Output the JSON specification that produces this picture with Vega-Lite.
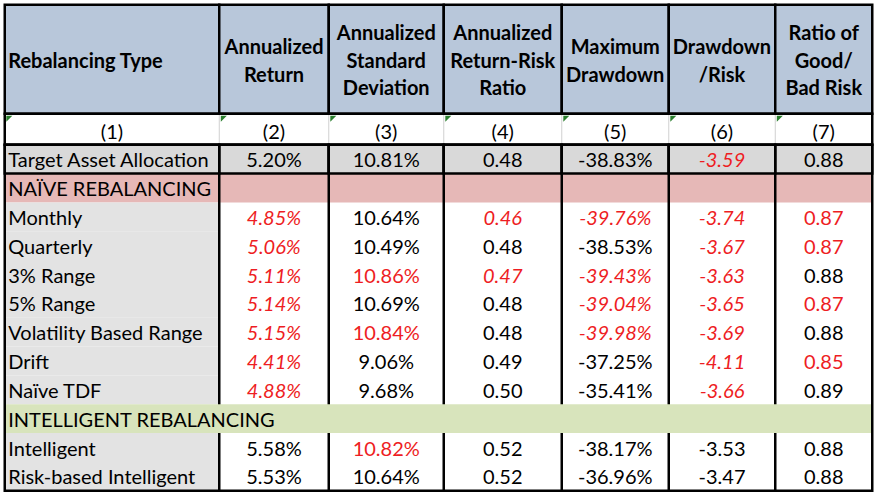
{
  "$schema": "https://vega.github.io/schema/vega-lite/v6.json",
  "autosize": {"type": "pad"},
  "padding": {"left": 2.75, "top": 2.75, "right": 0, "bottom": 0},
  "background": "#ffffff",
  "spacing": 0,
  "bounds": "flush",
  "config": {"view": {"stroke": null}, "concat": {"spacing": 0}},
  "datasets": {
    "columns": [
      {"col": "Type", "header": "Rebalancing Type"},
      {"col": "Return", "header": "Annualized\nReturn"},
      {"col": "StdDev", "header": "Annualized\nStandard\nDeviation"},
      {"col": "ReturnRisk", "header": "Annualized\nReturn-Risk\nRatio"},
      {"col": "MaxDD", "header": "Maximum\nDrawdown"},
      {"col": "DDRisk", "header": "Drawdown\n/Risk"},
      {"col": "GoodBad", "header": "Ratio of\nGood/\nBad Risk"}
    ],
    "cells": [
      {"row": "Column number", "col": "Type", "value": "(1)"},
      {"row": "Column number", "col": "Return", "value": "(2)"},
      {"row": "Column number", "col": "StdDev", "value": "(3)"},
      {"row": "Column number", "col": "ReturnRisk", "value": "(4)"},
      {"row": "Column number", "col": "MaxDD", "value": "(5)"},
      {"row": "Column number", "col": "DDRisk", "value": "(6)"},
      {"row": "Column number", "col": "GoodBad", "value": "(7)"},

      {"row": "Target Asset Allocation", "col": "Type", "value": "Target Asset Allocation"},
      {"row": "Target Asset Allocation", "col": "Return", "value": "5.20%", "status": "normal"},
      {"row": "Target Asset Allocation", "col": "StdDev", "value": "10.81%", "status": "normal"},
      {"row": "Target Asset Allocation", "col": "ReturnRisk", "value": "0.48", "status": "normal"},
      {"row": "Target Asset Allocation", "col": "MaxDD", "value": "-38.83%", "status": "normal"},
      {"row": "Target Asset Allocation", "col": "DDRisk", "value": "-3.59", "status": "worse, significant"},
      {"row": "Target Asset Allocation", "col": "GoodBad", "value": "0.88", "status": "normal"},

      {"row": "NAÏVE REBALANCING", "col": "Type", "value": "NAÏVE REBALANCING"},

      {"row": "Monthly", "col": "Type", "value": "Monthly"},
      {"row": "Monthly", "col": "Return", "value": "4.85%", "status": "worse, significant"},
      {"row": "Monthly", "col": "StdDev", "value": "10.64%", "status": "normal"},
      {"row": "Monthly", "col": "ReturnRisk", "value": "0.46", "status": "worse, significant"},
      {"row": "Monthly", "col": "MaxDD", "value": "-39.76%", "status": "worse, significant"},
      {"row": "Monthly", "col": "DDRisk", "value": "-3.74", "status": "worse, significant"},
      {"row": "Monthly", "col": "GoodBad", "value": "0.87", "status": "worse"},

      {"row": "Quarterly", "col": "Type", "value": "Quarterly"},
      {"row": "Quarterly", "col": "Return", "value": "5.06%", "status": "worse, significant"},
      {"row": "Quarterly", "col": "StdDev", "value": "10.49%", "status": "normal"},
      {"row": "Quarterly", "col": "ReturnRisk", "value": "0.48", "status": "normal"},
      {"row": "Quarterly", "col": "MaxDD", "value": "-38.53%", "status": "normal"},
      {"row": "Quarterly", "col": "DDRisk", "value": "-3.67", "status": "worse, significant"},
      {"row": "Quarterly", "col": "GoodBad", "value": "0.87", "status": "worse"},

      {"row": "3% Range", "col": "Type", "value": "3% Range"},
      {"row": "3% Range", "col": "Return", "value": "5.11%", "status": "worse, significant"},
      {"row": "3% Range", "col": "StdDev", "value": "10.86%", "status": "worse"},
      {"row": "3% Range", "col": "ReturnRisk", "value": "0.47", "status": "worse, significant"},
      {"row": "3% Range", "col": "MaxDD", "value": "-39.43%", "status": "worse, significant"},
      {"row": "3% Range", "col": "DDRisk", "value": "-3.63", "status": "worse, significant"},
      {"row": "3% Range", "col": "GoodBad", "value": "0.88", "status": "normal"},

      {"row": "5% Range", "col": "Type", "value": "5% Range"},
      {"row": "5% Range", "col": "Return", "value": "5.14%", "status": "worse, significant"},
      {"row": "5% Range", "col": "StdDev", "value": "10.69%", "status": "normal"},
      {"row": "5% Range", "col": "ReturnRisk", "value": "0.48", "status": "normal"},
      {"row": "5% Range", "col": "MaxDD", "value": "-39.04%", "status": "worse, significant"},
      {"row": "5% Range", "col": "DDRisk", "value": "-3.65", "status": "worse, significant"},
      {"row": "5% Range", "col": "GoodBad", "value": "0.87", "status": "worse"},

      {"row": "Volatility Based Range", "col": "Type", "value": "Volatility Based Range"},
      {"row": "Volatility Based Range", "col": "Return", "value": "5.15%", "status": "worse, significant"},
      {"row": "Volatility Based Range", "col": "StdDev", "value": "10.84%", "status": "worse"},
      {"row": "Volatility Based Range", "col": "ReturnRisk", "value": "0.48", "status": "normal"},
      {"row": "Volatility Based Range", "col": "MaxDD", "value": "-39.98%", "status": "worse, significant"},
      {"row": "Volatility Based Range", "col": "DDRisk", "value": "-3.69", "status": "worse, significant"},
      {"row": "Volatility Based Range", "col": "GoodBad", "value": "0.88", "status": "normal"},

      {"row": "Drift", "col": "Type", "value": "Drift"},
      {"row": "Drift", "col": "Return", "value": "4.41%", "status": "worse, significant"},
      {"row": "Drift", "col": "StdDev", "value": "9.06%", "status": "normal"},
      {"row": "Drift", "col": "ReturnRisk", "value": "0.49", "status": "normal"},
      {"row": "Drift", "col": "MaxDD", "value": "-37.25%", "status": "normal"},
      {"row": "Drift", "col": "DDRisk", "value": "-4.11", "status": "worse, significant"},
      {"row": "Drift", "col": "GoodBad", "value": "0.85", "status": "worse"},

      {"row": "Naïve TDF", "col": "Type", "value": "Naïve TDF"},
      {"row": "Naïve TDF", "col": "Return", "value": "4.88%", "status": "worse, significant"},
      {"row": "Naïve TDF", "col": "StdDev", "value": "9.68%", "status": "normal"},
      {"row": "Naïve TDF", "col": "ReturnRisk", "value": "0.50", "status": "normal"},
      {"row": "Naïve TDF", "col": "MaxDD", "value": "-35.41%", "status": "normal"},
      {"row": "Naïve TDF", "col": "DDRisk", "value": "-3.66", "status": "worse, significant"},
      {"row": "Naïve TDF", "col": "GoodBad", "value": "0.89", "status": "normal"},

      {"row": "INTELLIGENT REBALANCING", "col": "Type", "value": "INTELLIGENT REBALANCING"},

      {"row": "Intelligent", "col": "Type", "value": "Intelligent"},
      {"row": "Intelligent", "col": "Return", "value": "5.58%", "status": "normal"},
      {"row": "Intelligent", "col": "StdDev", "value": "10.82%", "status": "worse"},
      {"row": "Intelligent", "col": "ReturnRisk", "value": "0.52", "status": "normal"},
      {"row": "Intelligent", "col": "MaxDD", "value": "-38.17%", "status": "normal"},
      {"row": "Intelligent", "col": "DDRisk", "value": "-3.53", "status": "normal"},
      {"row": "Intelligent", "col": "GoodBad", "value": "0.88", "status": "normal"},

      {"row": "Risk-based Intelligent", "col": "Type", "value": "Risk-based Intelligent"},
      {"row": "Risk-based Intelligent", "col": "Return", "value": "5.53%", "status": "normal"},
      {"row": "Risk-based Intelligent", "col": "StdDev", "value": "10.64%", "status": "normal"},
      {"row": "Risk-based Intelligent", "col": "ReturnRisk", "value": "0.52", "status": "normal"},
      {"row": "Risk-based Intelligent", "col": "MaxDD", "value": "-36.96%", "status": "normal"},
      {"row": "Risk-based Intelligent", "col": "DDRisk", "value": "-3.47", "status": "normal"},
      {"row": "Risk-based Intelligent", "col": "GoodBad", "value": "0.88", "status": "normal"}
    ]
  },
  "vconcat": [
    {
      "width": 867.5,
      "height": 109,
      "data": {"name": "columns"},
      "resolve": {"scale": {"x": "independent"}},
      "layer": [
        {"transform": [{"filter": {"field": "col", "equal": "Type"}}], "layer": [
          {"mark": {"type": "rect", "fill": "#B8C7DA", "stroke": "#000000", "strokeWidth": 2.5}, "encoding": {"x": {"field": "col", "type": "nominal", "axis": null, "scale": {"type": "band", "domain": ["Type"], "range": [0, 214.5], "paddingInner": 0, "paddingOuter": 0}}}},
          {"mark": {"type": "text", "font": "Lato", "fontSize": 20, "fontWeight": "bold", "align": "left", "dx": 3.5, "dy": 2.5, "lineBreak": "\n", "lineHeight": 27.5, "color": "#000000"}, "encoding": {"x": {"field": "col", "type": "nominal", "axis": null, "bandPosition": 0, "scale": {"type": "band", "domain": ["Type"], "range": [0, 214.5], "paddingInner": 0, "paddingOuter": 0}}, "text": {"field": "header"}}}
        ]},
        {"transform": [{"filter": {"field": "col", "equal": "Return"}}], "layer": [
          {"mark": {"type": "rect", "fill": "#B8C7DA", "stroke": "#000000", "strokeWidth": 2.5}, "encoding": {"x": {"field": "col", "type": "nominal", "axis": null, "scale": {"type": "band", "domain": ["Return"], "range": [214.5, 324], "paddingInner": 0, "paddingOuter": 0}}}},
          {"mark": {"type": "text", "font": "Lato", "fontSize": 20, "fontWeight": "bold", "align": "center", "dy": -11.25, "lineBreak": "\n", "lineHeight": 27.5, "color": "#000000"}, "encoding": {"x": {"field": "col", "type": "nominal", "axis": null, "scale": {"type": "band", "domain": ["Return"], "range": [214.5, 324], "paddingInner": 0, "paddingOuter": 0}}, "text": {"field": "header"}}}
        ]},
        {"transform": [{"filter": {"field": "col", "equal": "StdDev"}}], "layer": [
          {"mark": {"type": "rect", "fill": "#B8C7DA", "stroke": "#000000", "strokeWidth": 2.5}, "encoding": {"x": {"field": "col", "type": "nominal", "axis": null, "scale": {"type": "band", "domain": ["StdDev"], "range": [324, 439], "paddingInner": 0, "paddingOuter": 0}}}},
          {"mark": {"type": "text", "font": "Lato", "fontSize": 20, "fontWeight": "bold", "align": "center", "dy": -25, "lineBreak": "\n", "lineHeight": 27.5, "color": "#000000"}, "encoding": {"x": {"field": "col", "type": "nominal", "axis": null, "scale": {"type": "band", "domain": ["StdDev"], "range": [324, 439], "paddingInner": 0, "paddingOuter": 0}}, "text": {"field": "header"}}}
        ]},
        {"transform": [{"filter": {"field": "col", "equal": "ReturnRisk"}}], "layer": [
          {"mark": {"type": "rect", "fill": "#B8C7DA", "stroke": "#000000", "strokeWidth": 2.5}, "encoding": {"x": {"field": "col", "type": "nominal", "axis": null, "scale": {"type": "band", "domain": ["ReturnRisk"], "range": [439, 557], "paddingInner": 0, "paddingOuter": 0}}}},
          {"mark": {"type": "text", "font": "Lato", "fontSize": 20, "fontWeight": "bold", "align": "center", "dy": -25, "lineBreak": "\n", "lineHeight": 27.5, "color": "#000000"}, "encoding": {"x": {"field": "col", "type": "nominal", "axis": null, "scale": {"type": "band", "domain": ["ReturnRisk"], "range": [439, 557], "paddingInner": 0, "paddingOuter": 0}}, "text": {"field": "header"}}}
        ]},
        {"transform": [{"filter": {"field": "col", "equal": "MaxDD"}}], "layer": [
          {"mark": {"type": "rect", "fill": "#B8C7DA", "stroke": "#000000", "strokeWidth": 2.5}, "encoding": {"x": {"field": "col", "type": "nominal", "axis": null, "scale": {"type": "band", "domain": ["MaxDD"], "range": [557, 664], "paddingInner": 0, "paddingOuter": 0}}}},
          {"mark": {"type": "text", "font": "Lato", "fontSize": 20, "fontWeight": "bold", "align": "center", "dy": -11.25, "lineBreak": "\n", "lineHeight": 27.5, "color": "#000000"}, "encoding": {"x": {"field": "col", "type": "nominal", "axis": null, "scale": {"type": "band", "domain": ["MaxDD"], "range": [557, 664], "paddingInner": 0, "paddingOuter": 0}}, "text": {"field": "header"}}}
        ]},
        {"transform": [{"filter": {"field": "col", "equal": "DDRisk"}}], "layer": [
          {"mark": {"type": "rect", "fill": "#B8C7DA", "stroke": "#000000", "strokeWidth": 2.5}, "encoding": {"x": {"field": "col", "type": "nominal", "axis": null, "scale": {"type": "band", "domain": ["DDRisk"], "range": [664, 770.5], "paddingInner": 0, "paddingOuter": 0}}}},
          {"mark": {"type": "text", "font": "Lato", "fontSize": 20, "fontWeight": "bold", "align": "center", "dy": -11.25, "lineBreak": "\n", "lineHeight": 27.5, "color": "#000000"}, "encoding": {"x": {"field": "col", "type": "nominal", "axis": null, "scale": {"type": "band", "domain": ["DDRisk"], "range": [664, 770.5], "paddingInner": 0, "paddingOuter": 0}}, "text": {"field": "header"}}}
        ]},
        {"transform": [{"filter": {"field": "col", "equal": "GoodBad"}}], "layer": [
          {"mark": {"type": "rect", "fill": "#B8C7DA", "stroke": "#000000", "strokeWidth": 2.5}, "encoding": {"x": {"field": "col", "type": "nominal", "axis": null, "scale": {"type": "band", "domain": ["GoodBad"], "range": [770.5, 867.5], "paddingInner": 0, "paddingOuter": 0}}}},
          {"mark": {"type": "text", "font": "Lato", "fontSize": 20, "fontWeight": "bold", "align": "center", "dy": -25, "lineBreak": "\n", "lineHeight": 27.5, "color": "#000000"}, "encoding": {"x": {"field": "col", "type": "nominal", "axis": null, "scale": {"type": "band", "domain": ["GoodBad"], "range": [770.5, 867.5], "paddingInner": 0, "paddingOuter": 0}}, "text": {"field": "header"}}}
        ]}
      ]
    },
    {
      "width": 867.5,
      "height": 31,
      "data": {"name": "cells"},
      "transform": [{"filter": {"field": "row", "equal": "Column number"}}],
      "resolve": {"scale": {"x": "independent"}},
      "layer": [
        {"transform": [{"filter": {"field": "col", "equal": "Type"}}], "layer": [
          {"mark": {"type": "text", "font": "Lato", "fontSize": 20, "dy": 3.5, "color": "#000000"}, "encoding": {"x": {"field": "col", "type": "nominal", "axis": null, "scale": {"type": "band", "domain": ["Type"], "range": [0, 214.5], "paddingInner": 0, "paddingOuter": 0}}, "y": {"field": "row", "type": "nominal", "axis": null, "scale": {"type": "band", "domain": ["Column number"], "paddingInner": 0, "paddingOuter": 0}}, "text": {"field": "value"}}},
          {"mark": {"type": "point", "shape": "M0.25,0.3L1.2,0.3L0.25,1.25Z", "filled": true, "size": 160, "color": "#2A7F2E", "opacity": 1, "strokeWidth": 0}, "encoding": {"x": {"field": "col", "type": "nominal", "axis": null, "bandPosition": 0, "scale": {"type": "band", "domain": ["Type"], "range": [0, 214.5], "paddingInner": 0, "paddingOuter": 0}}, "y": {"field": "row", "type": "nominal", "axis": null, "bandPosition": 0, "scale": {"type": "band", "domain": ["Column number"], "paddingInner": 0, "paddingOuter": 0}}}}
        ]},
        {"transform": [{"filter": {"field": "col", "equal": "Return"}}], "layer": [
          {"mark": {"type": "rule", "stroke": "#D0D0D0", "strokeWidth": 1}, "encoding": {"x": {"field": "col", "type": "nominal", "axis": null, "bandPosition": 0, "scale": {"type": "band", "domain": ["Return"], "range": [214.5, 324], "paddingInner": 0, "paddingOuter": 0}}}},
          {"mark": {"type": "text", "font": "Lato", "fontSize": 20, "dy": 3.5, "color": "#000000"}, "encoding": {"x": {"field": "col", "type": "nominal", "axis": null, "scale": {"type": "band", "domain": ["Return"], "range": [214.5, 324], "paddingInner": 0, "paddingOuter": 0}}, "y": {"field": "row", "type": "nominal", "axis": null, "scale": {"type": "band", "domain": ["Column number"], "paddingInner": 0, "paddingOuter": 0}}, "text": {"field": "value"}}},
          {"mark": {"type": "point", "shape": "M0.25,0.3L1.2,0.3L0.25,1.25Z", "filled": true, "size": 160, "color": "#2A7F2E", "opacity": 1, "strokeWidth": 0}, "encoding": {"x": {"field": "col", "type": "nominal", "axis": null, "bandPosition": 0, "scale": {"type": "band", "domain": ["Return"], "range": [214.5, 324], "paddingInner": 0, "paddingOuter": 0}}, "y": {"field": "row", "type": "nominal", "axis": null, "bandPosition": 0, "scale": {"type": "band", "domain": ["Column number"], "paddingInner": 0, "paddingOuter": 0}}}}
        ]},
        {"transform": [{"filter": {"field": "col", "equal": "StdDev"}}], "layer": [
          {"mark": {"type": "rule", "stroke": "#D0D0D0", "strokeWidth": 1}, "encoding": {"x": {"field": "col", "type": "nominal", "axis": null, "bandPosition": 0, "scale": {"type": "band", "domain": ["StdDev"], "range": [324, 439], "paddingInner": 0, "paddingOuter": 0}}}},
          {"mark": {"type": "text", "font": "Lato", "fontSize": 20, "dy": 3.5, "color": "#000000"}, "encoding": {"x": {"field": "col", "type": "nominal", "axis": null, "scale": {"type": "band", "domain": ["StdDev"], "range": [324, 439], "paddingInner": 0, "paddingOuter": 0}}, "y": {"field": "row", "type": "nominal", "axis": null, "scale": {"type": "band", "domain": ["Column number"], "paddingInner": 0, "paddingOuter": 0}}, "text": {"field": "value"}}},
          {"mark": {"type": "point", "shape": "M0.25,0.3L1.2,0.3L0.25,1.25Z", "filled": true, "size": 160, "color": "#2A7F2E", "opacity": 1, "strokeWidth": 0}, "encoding": {"x": {"field": "col", "type": "nominal", "axis": null, "bandPosition": 0, "scale": {"type": "band", "domain": ["StdDev"], "range": [324, 439], "paddingInner": 0, "paddingOuter": 0}}, "y": {"field": "row", "type": "nominal", "axis": null, "bandPosition": 0, "scale": {"type": "band", "domain": ["Column number"], "paddingInner": 0, "paddingOuter": 0}}}}
        ]},
        {"transform": [{"filter": {"field": "col", "equal": "ReturnRisk"}}], "layer": [
          {"mark": {"type": "rule", "stroke": "#D0D0D0", "strokeWidth": 1}, "encoding": {"x": {"field": "col", "type": "nominal", "axis": null, "bandPosition": 0, "scale": {"type": "band", "domain": ["ReturnRisk"], "range": [439, 557], "paddingInner": 0, "paddingOuter": 0}}}},
          {"mark": {"type": "text", "font": "Lato", "fontSize": 20, "dy": 3.5, "color": "#000000"}, "encoding": {"x": {"field": "col", "type": "nominal", "axis": null, "scale": {"type": "band", "domain": ["ReturnRisk"], "range": [439, 557], "paddingInner": 0, "paddingOuter": 0}}, "y": {"field": "row", "type": "nominal", "axis": null, "scale": {"type": "band", "domain": ["Column number"], "paddingInner": 0, "paddingOuter": 0}}, "text": {"field": "value"}}},
          {"mark": {"type": "point", "shape": "M0.25,0.3L1.2,0.3L0.25,1.25Z", "filled": true, "size": 160, "color": "#2A7F2E", "opacity": 1, "strokeWidth": 0}, "encoding": {"x": {"field": "col", "type": "nominal", "axis": null, "bandPosition": 0, "scale": {"type": "band", "domain": ["ReturnRisk"], "range": [439, 557], "paddingInner": 0, "paddingOuter": 0}}, "y": {"field": "row", "type": "nominal", "axis": null, "bandPosition": 0, "scale": {"type": "band", "domain": ["Column number"], "paddingInner": 0, "paddingOuter": 0}}}}
        ]},
        {"transform": [{"filter": {"field": "col", "equal": "MaxDD"}}], "layer": [
          {"mark": {"type": "rule", "stroke": "#D0D0D0", "strokeWidth": 1}, "encoding": {"x": {"field": "col", "type": "nominal", "axis": null, "bandPosition": 0, "scale": {"type": "band", "domain": ["MaxDD"], "range": [557, 664], "paddingInner": 0, "paddingOuter": 0}}}},
          {"mark": {"type": "text", "font": "Lato", "fontSize": 20, "dy": 3.5, "color": "#000000"}, "encoding": {"x": {"field": "col", "type": "nominal", "axis": null, "scale": {"type": "band", "domain": ["MaxDD"], "range": [557, 664], "paddingInner": 0, "paddingOuter": 0}}, "y": {"field": "row", "type": "nominal", "axis": null, "scale": {"type": "band", "domain": ["Column number"], "paddingInner": 0, "paddingOuter": 0}}, "text": {"field": "value"}}},
          {"mark": {"type": "point", "shape": "M0.25,0.3L1.2,0.3L0.25,1.25Z", "filled": true, "size": 160, "color": "#2A7F2E", "opacity": 1, "strokeWidth": 0}, "encoding": {"x": {"field": "col", "type": "nominal", "axis": null, "bandPosition": 0, "scale": {"type": "band", "domain": ["MaxDD"], "range": [557, 664], "paddingInner": 0, "paddingOuter": 0}}, "y": {"field": "row", "type": "nominal", "axis": null, "bandPosition": 0, "scale": {"type": "band", "domain": ["Column number"], "paddingInner": 0, "paddingOuter": 0}}}}
        ]},
        {"transform": [{"filter": {"field": "col", "equal": "DDRisk"}}], "layer": [
          {"mark": {"type": "rule", "stroke": "#D0D0D0", "strokeWidth": 1}, "encoding": {"x": {"field": "col", "type": "nominal", "axis": null, "bandPosition": 0, "scale": {"type": "band", "domain": ["DDRisk"], "range": [664, 770.5], "paddingInner": 0, "paddingOuter": 0}}}},
          {"mark": {"type": "text", "font": "Lato", "fontSize": 20, "dy": 3.5, "color": "#000000"}, "encoding": {"x": {"field": "col", "type": "nominal", "axis": null, "scale": {"type": "band", "domain": ["DDRisk"], "range": [664, 770.5], "paddingInner": 0, "paddingOuter": 0}}, "y": {"field": "row", "type": "nominal", "axis": null, "scale": {"type": "band", "domain": ["Column number"], "paddingInner": 0, "paddingOuter": 0}}, "text": {"field": "value"}}},
          {"mark": {"type": "point", "shape": "M0.25,0.3L1.2,0.3L0.25,1.25Z", "filled": true, "size": 160, "color": "#2A7F2E", "opacity": 1, "strokeWidth": 0}, "encoding": {"x": {"field": "col", "type": "nominal", "axis": null, "bandPosition": 0, "scale": {"type": "band", "domain": ["DDRisk"], "range": [664, 770.5], "paddingInner": 0, "paddingOuter": 0}}, "y": {"field": "row", "type": "nominal", "axis": null, "bandPosition": 0, "scale": {"type": "band", "domain": ["Column number"], "paddingInner": 0, "paddingOuter": 0}}}}
        ]},
        {"transform": [{"filter": {"field": "col", "equal": "GoodBad"}}], "layer": [
          {"mark": {"type": "rule", "stroke": "#D0D0D0", "strokeWidth": 1}, "encoding": {"x": {"field": "col", "type": "nominal", "axis": null, "bandPosition": 0, "scale": {"type": "band", "domain": ["GoodBad"], "range": [770.5, 867.5], "paddingInner": 0, "paddingOuter": 0}}}},
          {"mark": {"type": "text", "font": "Lato", "fontSize": 20, "dy": 3.5, "color": "#000000"}, "encoding": {"x": {"field": "col", "type": "nominal", "axis": null, "scale": {"type": "band", "domain": ["GoodBad"], "range": [770.5, 867.5], "paddingInner": 0, "paddingOuter": 0}}, "y": {"field": "row", "type": "nominal", "axis": null, "scale": {"type": "band", "domain": ["Column number"], "paddingInner": 0, "paddingOuter": 0}}, "text": {"field": "value"}}},
          {"mark": {"type": "point", "shape": "M0.25,0.3L1.2,0.3L0.25,1.25Z", "filled": true, "size": 160, "color": "#2A7F2E", "opacity": 1, "strokeWidth": 0}, "encoding": {"x": {"field": "col", "type": "nominal", "axis": null, "bandPosition": 0, "scale": {"type": "band", "domain": ["GoodBad"], "range": [770.5, 867.5], "paddingInner": 0, "paddingOuter": 0}}, "y": {"field": "row", "type": "nominal", "axis": null, "bandPosition": 0, "scale": {"type": "band", "domain": ["Column number"], "paddingInner": 0, "paddingOuter": 0}}}}
        ]},
        {"transform": [{"filter": {"field": "col", "equal": "Type"}}], "mark": {"type": "rect", "filled": false, "stroke": "#000000", "strokeWidth": 2.5}, "encoding": {}}
      ]
    },
    {
      "width": 867.5,
      "height": 346,
      "data": {"name": "cells"},
      "transform": [{"filter": "datum.row !== 'Column number'"}],
      "resolve": {"scale": {"x": "independent"}},
      "layer": [
        {"transform": [{"filter": {"field": "row", "equal": "NAÏVE REBALANCING"}}], "mark": {"type": "rect", "fill": "#E6B8B7"}, "encoding": {"y": {"field": "row", "type": "nominal", "axis": null, "scale": {"type": "band", "domain": ["Target Asset Allocation", "NAÏVE REBALANCING", "Monthly", "Quarterly", "3% Range", "5% Range", "Volatility Based Range", "Drift", "Naïve TDF", "INTELLIGENT REBALANCING", "Intelligent", "Risk-based Intelligent"], "paddingInner": 0, "paddingOuter": 0}}}},

        {"transform": [{"filter": {"field": "col", "equal": "Type"}}], "layer": [
          {"transform": [{"filter": {"not": {"field": "row", "oneOf": ["Target Asset Allocation", "NAÏVE REBALANCING", "INTELLIGENT REBALANCING"]}}}], "mark": {"type": "rect", "fill": "#E3E3E3"}, "encoding": {"x": {"field": "col", "type": "nominal", "axis": null, "scale": {"type": "band", "domain": ["Type"], "range": [0, 214.5], "paddingInner": 0, "paddingOuter": 0}}, "y": {"field": "row", "type": "nominal", "axis": null, "scale": {"type": "band", "domain": ["Target Asset Allocation", "NAÏVE REBALANCING", "Monthly", "Quarterly", "3% Range", "5% Range", "Volatility Based Range", "Drift", "Naïve TDF", "INTELLIGENT REBALANCING", "Intelligent", "Risk-based Intelligent"], "paddingInner": 0, "paddingOuter": 0}}}},
          {"transform": [{"filter": {"field": "row", "equal": "Target Asset Allocation"}}], "mark": {"type": "rect", "fill": "#D9D9D9", "stroke": "#000000", "strokeWidth": 2.5}, "encoding": {"x": {"field": "col", "type": "nominal", "axis": null, "scale": {"type": "band", "domain": ["Type"], "range": [0, 214.5], "paddingInner": 0, "paddingOuter": 0}}, "y": {"field": "row", "type": "nominal", "axis": null, "scale": {"type": "band", "domain": ["Target Asset Allocation", "NAÏVE REBALANCING", "Monthly", "Quarterly", "3% Range", "5% Range", "Volatility Based Range", "Drift", "Naïve TDF", "INTELLIGENT REBALANCING", "Intelligent", "Risk-based Intelligent"], "paddingInner": 0, "paddingOuter": 0}}}}
        ]},

        {"transform": [{"filter": {"field": "col", "equal": "Return"}}], "layer": [
          {"transform": [{"filter": {"field": "row", "equal": "Target Asset Allocation"}}], "mark": {"type": "rect", "fill": "#D9D9D9", "stroke": "#000000", "strokeWidth": 2.5}, "encoding": {"x": {"field": "col", "type": "nominal", "axis": null, "scale": {"type": "band", "domain": ["Return"], "range": [214.5, 324], "paddingInner": 0, "paddingOuter": 0}}, "y": {"field": "row", "type": "nominal", "axis": null, "scale": {"type": "band", "domain": ["Target Asset Allocation", "NAÏVE REBALANCING", "Monthly", "Quarterly", "3% Range", "5% Range", "Volatility Based Range", "Drift", "Naïve TDF", "INTELLIGENT REBALANCING", "Intelligent", "Risk-based Intelligent"], "paddingInner": 0, "paddingOuter": 0}}}},
          {"transform": [{"filter": {"field": "row", "equal": "Target Asset Allocation"}}], "mark": {"type": "rule", "stroke": "#000000", "strokeWidth": 2.5}, "encoding": {"x": {"field": "col", "type": "nominal", "axis": null, "bandPosition": 0, "scale": {"type": "band", "domain": ["Return"], "range": [214.5, 324], "paddingInner": 0, "paddingOuter": 0}}}},
          {"transform": [{"filter": "datum.status !== 'worse, significant'"}], "mark": {"type": "text", "font": "Lato", "fontSize": 20, "dy": 2}, "encoding": {"x": {"field": "col", "type": "nominal", "axis": null, "scale": {"type": "band", "domain": ["Return"], "range": [214.5, 324], "paddingInner": 0, "paddingOuter": 0}}, "y": {"field": "row", "type": "nominal", "axis": null, "scale": {"type": "band", "domain": ["Target Asset Allocation", "NAÏVE REBALANCING", "Monthly", "Quarterly", "3% Range", "5% Range", "Volatility Based Range", "Drift", "Naïve TDF", "INTELLIGENT REBALANCING", "Intelligent", "Risk-based Intelligent"], "paddingInner": 0, "paddingOuter": 0}}, "text": {"field": "value"}, "color": {"field": "status", "type": "nominal", "legend": null, "scale": {"domain": ["normal", "worse", "worse, significant"], "range": ["#000000", "#EE1D23", "#EE1D23"]}}}},
          {"transform": [{"filter": {"field": "status", "equal": "worse, significant"}}], "mark": {"type": "text", "font": "Lato", "fontSize": 20, "fontStyle": "italic", "dy": 2}, "encoding": {"x": {"field": "col", "type": "nominal", "axis": null, "scale": {"type": "band", "domain": ["Return"], "range": [214.5, 324], "paddingInner": 0, "paddingOuter": 0}}, "y": {"field": "row", "type": "nominal", "axis": null, "scale": {"type": "band", "domain": ["Target Asset Allocation", "NAÏVE REBALANCING", "Monthly", "Quarterly", "3% Range", "5% Range", "Volatility Based Range", "Drift", "Naïve TDF", "INTELLIGENT REBALANCING", "Intelligent", "Risk-based Intelligent"], "paddingInner": 0, "paddingOuter": 0}}, "text": {"field": "value"}, "color": {"field": "status", "type": "nominal", "legend": null, "scale": {"domain": ["normal", "worse", "worse, significant"], "range": ["#000000", "#EE1D23", "#EE1D23"]}}}}
        ]},

        {"transform": [{"filter": {"field": "col", "equal": "StdDev"}}], "layer": [
          {"transform": [{"filter": {"field": "row", "equal": "Target Asset Allocation"}}], "mark": {"type": "rect", "fill": "#D9D9D9", "stroke": "#000000", "strokeWidth": 2.5}, "encoding": {"x": {"field": "col", "type": "nominal", "axis": null, "scale": {"type": "band", "domain": ["StdDev"], "range": [324, 439], "paddingInner": 0, "paddingOuter": 0}}, "y": {"field": "row", "type": "nominal", "axis": null, "scale": {"type": "band", "domain": ["Target Asset Allocation", "NAÏVE REBALANCING", "Monthly", "Quarterly", "3% Range", "5% Range", "Volatility Based Range", "Drift", "Naïve TDF", "INTELLIGENT REBALANCING", "Intelligent", "Risk-based Intelligent"], "paddingInner": 0, "paddingOuter": 0}}}},
          {"transform": [{"filter": {"field": "row", "equal": "Target Asset Allocation"}}], "mark": {"type": "rule", "stroke": "#000000", "strokeWidth": 2.5}, "encoding": {"x": {"field": "col", "type": "nominal", "axis": null, "bandPosition": 0, "scale": {"type": "band", "domain": ["StdDev"], "range": [324, 439], "paddingInner": 0, "paddingOuter": 0}}}},
          {"transform": [{"filter": "datum.status !== 'worse, significant'"}], "mark": {"type": "text", "font": "Lato", "fontSize": 20, "dy": 2}, "encoding": {"x": {"field": "col", "type": "nominal", "axis": null, "scale": {"type": "band", "domain": ["StdDev"], "range": [324, 439], "paddingInner": 0, "paddingOuter": 0}}, "y": {"field": "row", "type": "nominal", "axis": null, "scale": {"type": "band", "domain": ["Target Asset Allocation", "NAÏVE REBALANCING", "Monthly", "Quarterly", "3% Range", "5% Range", "Volatility Based Range", "Drift", "Naïve TDF", "INTELLIGENT REBALANCING", "Intelligent", "Risk-based Intelligent"], "paddingInner": 0, "paddingOuter": 0}}, "text": {"field": "value"}, "color": {"field": "status", "type": "nominal", "legend": null, "scale": {"domain": ["normal", "worse", "worse, significant"], "range": ["#000000", "#EE1D23", "#EE1D23"]}}}},
          {"transform": [{"filter": {"field": "status", "equal": "worse, significant"}}], "mark": {"type": "text", "font": "Lato", "fontSize": 20, "fontStyle": "italic", "dy": 2}, "encoding": {"x": {"field": "col", "type": "nominal", "axis": null, "scale": {"type": "band", "domain": ["StdDev"], "range": [324, 439], "paddingInner": 0, "paddingOuter": 0}}, "y": {"field": "row", "type": "nominal", "axis": null, "scale": {"type": "band", "domain": ["Target Asset Allocation", "NAÏVE REBALANCING", "Monthly", "Quarterly", "3% Range", "5% Range", "Volatility Based Range", "Drift", "Naïve TDF", "INTELLIGENT REBALANCING", "Intelligent", "Risk-based Intelligent"], "paddingInner": 0, "paddingOuter": 0}}, "text": {"field": "value"}, "color": {"field": "status", "type": "nominal", "legend": null, "scale": {"domain": ["normal", "worse", "worse, significant"], "range": ["#000000", "#EE1D23", "#EE1D23"]}}}}
        ]},

        {"transform": [{"filter": {"field": "col", "equal": "ReturnRisk"}}], "layer": [
          {"transform": [{"filter": {"field": "row", "equal": "Target Asset Allocation"}}], "mark": {"type": "rect", "fill": "#D9D9D9", "stroke": "#000000", "strokeWidth": 2.5}, "encoding": {"x": {"field": "col", "type": "nominal", "axis": null, "scale": {"type": "band", "domain": ["ReturnRisk"], "range": [439, 557], "paddingInner": 0, "paddingOuter": 0}}, "y": {"field": "row", "type": "nominal", "axis": null, "scale": {"type": "band", "domain": ["Target Asset Allocation", "NAÏVE REBALANCING", "Monthly", "Quarterly", "3% Range", "5% Range", "Volatility Based Range", "Drift", "Naïve TDF", "INTELLIGENT REBALANCING", "Intelligent", "Risk-based Intelligent"], "paddingInner": 0, "paddingOuter": 0}}}},
          {"transform": [{"filter": {"field": "row", "equal": "Target Asset Allocation"}}], "mark": {"type": "rule", "stroke": "#000000", "strokeWidth": 2.5}, "encoding": {"x": {"field": "col", "type": "nominal", "axis": null, "bandPosition": 0, "scale": {"type": "band", "domain": ["ReturnRisk"], "range": [439, 557], "paddingInner": 0, "paddingOuter": 0}}}},
          {"transform": [{"filter": "datum.status !== 'worse, significant'"}], "mark": {"type": "text", "font": "Lato", "fontSize": 20, "dy": 2}, "encoding": {"x": {"field": "col", "type": "nominal", "axis": null, "scale": {"type": "band", "domain": ["ReturnRisk"], "range": [439, 557], "paddingInner": 0, "paddingOuter": 0}}, "y": {"field": "row", "type": "nominal", "axis": null, "scale": {"type": "band", "domain": ["Target Asset Allocation", "NAÏVE REBALANCING", "Monthly", "Quarterly", "3% Range", "5% Range", "Volatility Based Range", "Drift", "Naïve TDF", "INTELLIGENT REBALANCING", "Intelligent", "Risk-based Intelligent"], "paddingInner": 0, "paddingOuter": 0}}, "text": {"field": "value"}, "color": {"field": "status", "type": "nominal", "legend": null, "scale": {"domain": ["normal", "worse", "worse, significant"], "range": ["#000000", "#EE1D23", "#EE1D23"]}}}},
          {"transform": [{"filter": {"field": "status", "equal": "worse, significant"}}], "mark": {"type": "text", "font": "Lato", "fontSize": 20, "fontStyle": "italic", "dy": 2}, "encoding": {"x": {"field": "col", "type": "nominal", "axis": null, "scale": {"type": "band", "domain": ["ReturnRisk"], "range": [439, 557], "paddingInner": 0, "paddingOuter": 0}}, "y": {"field": "row", "type": "nominal", "axis": null, "scale": {"type": "band", "domain": ["Target Asset Allocation", "NAÏVE REBALANCING", "Monthly", "Quarterly", "3% Range", "5% Range", "Volatility Based Range", "Drift", "Naïve TDF", "INTELLIGENT REBALANCING", "Intelligent", "Risk-based Intelligent"], "paddingInner": 0, "paddingOuter": 0}}, "text": {"field": "value"}, "color": {"field": "status", "type": "nominal", "legend": null, "scale": {"domain": ["normal", "worse", "worse, significant"], "range": ["#000000", "#EE1D23", "#EE1D23"]}}}}
        ]},

        {"transform": [{"filter": {"field": "col", "equal": "MaxDD"}}], "layer": [
          {"transform": [{"filter": {"field": "row", "equal": "Target Asset Allocation"}}], "mark": {"type": "rect", "fill": "#D9D9D9", "stroke": "#000000", "strokeWidth": 2.5}, "encoding": {"x": {"field": "col", "type": "nominal", "axis": null, "scale": {"type": "band", "domain": ["MaxDD"], "range": [557, 664], "paddingInner": 0, "paddingOuter": 0}}, "y": {"field": "row", "type": "nominal", "axis": null, "scale": {"type": "band", "domain": ["Target Asset Allocation", "NAÏVE REBALANCING", "Monthly", "Quarterly", "3% Range", "5% Range", "Volatility Based Range", "Drift", "Naïve TDF", "INTELLIGENT REBALANCING", "Intelligent", "Risk-based Intelligent"], "paddingInner": 0, "paddingOuter": 0}}}},
          {"transform": [{"filter": {"field": "row", "equal": "Target Asset Allocation"}}], "mark": {"type": "rule", "stroke": "#000000", "strokeWidth": 2.5}, "encoding": {"x": {"field": "col", "type": "nominal", "axis": null, "bandPosition": 0, "scale": {"type": "band", "domain": ["MaxDD"], "range": [557, 664], "paddingInner": 0, "paddingOuter": 0}}}},
          {"transform": [{"filter": "datum.status !== 'worse, significant'"}], "mark": {"type": "text", "font": "Lato", "fontSize": 20, "dy": 2}, "encoding": {"x": {"field": "col", "type": "nominal", "axis": null, "scale": {"type": "band", "domain": ["MaxDD"], "range": [557, 664], "paddingInner": 0, "paddingOuter": 0}}, "y": {"field": "row", "type": "nominal", "axis": null, "scale": {"type": "band", "domain": ["Target Asset Allocation", "NAÏVE REBALANCING", "Monthly", "Quarterly", "3% Range", "5% Range", "Volatility Based Range", "Drift", "Naïve TDF", "INTELLIGENT REBALANCING", "Intelligent", "Risk-based Intelligent"], "paddingInner": 0, "paddingOuter": 0}}, "text": {"field": "value"}, "color": {"field": "status", "type": "nominal", "legend": null, "scale": {"domain": ["normal", "worse", "worse, significant"], "range": ["#000000", "#EE1D23", "#EE1D23"]}}}},
          {"transform": [{"filter": {"field": "status", "equal": "worse, significant"}}], "mark": {"type": "text", "font": "Lato", "fontSize": 20, "fontStyle": "italic", "dy": 2}, "encoding": {"x": {"field": "col", "type": "nominal", "axis": null, "scale": {"type": "band", "domain": ["MaxDD"], "range": [557, 664], "paddingInner": 0, "paddingOuter": 0}}, "y": {"field": "row", "type": "nominal", "axis": null, "scale": {"type": "band", "domain": ["Target Asset Allocation", "NAÏVE REBALANCING", "Monthly", "Quarterly", "3% Range", "5% Range", "Volatility Based Range", "Drift", "Naïve TDF", "INTELLIGENT REBALANCING", "Intelligent", "Risk-based Intelligent"], "paddingInner": 0, "paddingOuter": 0}}, "text": {"field": "value"}, "color": {"field": "status", "type": "nominal", "legend": null, "scale": {"domain": ["normal", "worse", "worse, significant"], "range": ["#000000", "#EE1D23", "#EE1D23"]}}}}
        ]},

        {"transform": [{"filter": {"field": "col", "equal": "DDRisk"}}], "layer": [
          {"transform": [{"filter": {"field": "row", "equal": "Target Asset Allocation"}}], "mark": {"type": "rect", "fill": "#D9D9D9", "stroke": "#000000", "strokeWidth": 2.5}, "encoding": {"x": {"field": "col", "type": "nominal", "axis": null, "scale": {"type": "band", "domain": ["DDRisk"], "range": [664, 770.5], "paddingInner": 0, "paddingOuter": 0}}, "y": {"field": "row", "type": "nominal", "axis": null, "scale": {"type": "band", "domain": ["Target Asset Allocation", "NAÏVE REBALANCING", "Monthly", "Quarterly", "3% Range", "5% Range", "Volatility Based Range", "Drift", "Naïve TDF", "INTELLIGENT REBALANCING", "Intelligent", "Risk-based Intelligent"], "paddingInner": 0, "paddingOuter": 0}}}},
          {"transform": [{"filter": {"field": "row", "equal": "Target Asset Allocation"}}], "mark": {"type": "rule", "stroke": "#000000", "strokeWidth": 2.5}, "encoding": {"x": {"field": "col", "type": "nominal", "axis": null, "bandPosition": 0, "scale": {"type": "band", "domain": ["DDRisk"], "range": [664, 770.5], "paddingInner": 0, "paddingOuter": 0}}}},
          {"transform": [{"filter": "datum.status !== 'worse, significant'"}], "mark": {"type": "text", "font": "Lato", "fontSize": 20, "dy": 2}, "encoding": {"x": {"field": "col", "type": "nominal", "axis": null, "scale": {"type": "band", "domain": ["DDRisk"], "range": [664, 770.5], "paddingInner": 0, "paddingOuter": 0}}, "y": {"field": "row", "type": "nominal", "axis": null, "scale": {"type": "band", "domain": ["Target Asset Allocation", "NAÏVE REBALANCING", "Monthly", "Quarterly", "3% Range", "5% Range", "Volatility Based Range", "Drift", "Naïve TDF", "INTELLIGENT REBALANCING", "Intelligent", "Risk-based Intelligent"], "paddingInner": 0, "paddingOuter": 0}}, "text": {"field": "value"}, "color": {"field": "status", "type": "nominal", "legend": null, "scale": {"domain": ["normal", "worse", "worse, significant"], "range": ["#000000", "#EE1D23", "#EE1D23"]}}}},
          {"transform": [{"filter": {"field": "status", "equal": "worse, significant"}}], "mark": {"type": "text", "font": "Lato", "fontSize": 20, "fontStyle": "italic", "dy": 2}, "encoding": {"x": {"field": "col", "type": "nominal", "axis": null, "scale": {"type": "band", "domain": ["DDRisk"], "range": [664, 770.5], "paddingInner": 0, "paddingOuter": 0}}, "y": {"field": "row", "type": "nominal", "axis": null, "scale": {"type": "band", "domain": ["Target Asset Allocation", "NAÏVE REBALANCING", "Monthly", "Quarterly", "3% Range", "5% Range", "Volatility Based Range", "Drift", "Naïve TDF", "INTELLIGENT REBALANCING", "Intelligent", "Risk-based Intelligent"], "paddingInner": 0, "paddingOuter": 0}}, "text": {"field": "value"}, "color": {"field": "status", "type": "nominal", "legend": null, "scale": {"domain": ["normal", "worse", "worse, significant"], "range": ["#000000", "#EE1D23", "#EE1D23"]}}}}
        ]},

        {"transform": [{"filter": {"field": "col", "equal": "GoodBad"}}], "layer": [
          {"transform": [{"filter": {"field": "row", "equal": "Target Asset Allocation"}}], "mark": {"type": "rect", "fill": "#D9D9D9", "stroke": "#000000", "strokeWidth": 2.5}, "encoding": {"x": {"field": "col", "type": "nominal", "axis": null, "scale": {"type": "band", "domain": ["GoodBad"], "range": [770.5, 867.5], "paddingInner": 0, "paddingOuter": 0}}, "y": {"field": "row", "type": "nominal", "axis": null, "scale": {"type": "band", "domain": ["Target Asset Allocation", "NAÏVE REBALANCING", "Monthly", "Quarterly", "3% Range", "5% Range", "Volatility Based Range", "Drift", "Naïve TDF", "INTELLIGENT REBALANCING", "Intelligent", "Risk-based Intelligent"], "paddingInner": 0, "paddingOuter": 0}}}},
          {"transform": [{"filter": {"field": "row", "equal": "Target Asset Allocation"}}], "mark": {"type": "rule", "stroke": "#000000", "strokeWidth": 2.5}, "encoding": {"x": {"field": "col", "type": "nominal", "axis": null, "bandPosition": 0, "scale": {"type": "band", "domain": ["GoodBad"], "range": [770.5, 867.5], "paddingInner": 0, "paddingOuter": 0}}}},
          {"transform": [{"filter": "datum.status !== 'worse, significant'"}], "mark": {"type": "text", "font": "Lato", "fontSize": 20, "dy": 2}, "encoding": {"x": {"field": "col", "type": "nominal", "axis": null, "scale": {"type": "band", "domain": ["GoodBad"], "range": [770.5, 867.5], "paddingInner": 0, "paddingOuter": 0}}, "y": {"field": "row", "type": "nominal", "axis": null, "scale": {"type": "band", "domain": ["Target Asset Allocation", "NAÏVE REBALANCING", "Monthly", "Quarterly", "3% Range", "5% Range", "Volatility Based Range", "Drift", "Naïve TDF", "INTELLIGENT REBALANCING", "Intelligent", "Risk-based Intelligent"], "paddingInner": 0, "paddingOuter": 0}}, "text": {"field": "value"}, "color": {"field": "status", "type": "nominal", "legend": null, "scale": {"domain": ["normal", "worse", "worse, significant"], "range": ["#000000", "#EE1D23", "#EE1D23"]}}}},
          {"transform": [{"filter": {"field": "status", "equal": "worse, significant"}}], "mark": {"type": "text", "font": "Lato", "fontSize": 20, "fontStyle": "italic", "dy": 2}, "encoding": {"x": {"field": "col", "type": "nominal", "axis": null, "scale": {"type": "band", "domain": ["GoodBad"], "range": [770.5, 867.5], "paddingInner": 0, "paddingOuter": 0}}, "y": {"field": "row", "type": "nominal", "axis": null, "scale": {"type": "band", "domain": ["Target Asset Allocation", "NAÏVE REBALANCING", "Monthly", "Quarterly", "3% Range", "5% Range", "Volatility Based Range", "Drift", "Naïve TDF", "INTELLIGENT REBALANCING", "Intelligent", "Risk-based Intelligent"], "paddingInner": 0, "paddingOuter": 0}}, "text": {"field": "value"}, "color": {"field": "status", "type": "nominal", "legend": null, "scale": {"domain": ["normal", "worse", "worse, significant"], "range": ["#000000", "#EE1D23", "#EE1D23"]}}}}
        ]},

        {"transform": [{"filter": {"field": "row", "equal": "INTELLIGENT REBALANCING"}}], "mark": {"type": "rect", "fill": "#D8E4BC"}, "encoding": {"y": {"field": "row", "type": "nominal", "axis": null, "scale": {"type": "band", "domain": ["Target Asset Allocation", "NAÏVE REBALANCING", "Monthly", "Quarterly", "3% Range", "5% Range", "Volatility Based Range", "Drift", "Naïve TDF", "INTELLIGENT REBALANCING", "Intelligent", "Risk-based Intelligent"], "paddingInner": 0, "paddingOuter": 0}}}},

        {"transform": [{"filter": {"field": "row", "equal": "Target Asset Allocation"}}, {"filter": {"field": "col", "equal": "Type"}}], "mark": {"type": "rect", "filled": false, "stroke": "#000000", "strokeWidth": 2.5}, "encoding": {}},

        {"transform": [{"filter": {"field": "col", "equal": "Type"}}], "mark": {"type": "text", "font": "Lato", "fontSize": 20, "align": "left", "dx": 3.5, "dy": 2, "color": "#000000"}, "encoding": {"x": {"field": "col", "type": "nominal", "axis": null, "bandPosition": 0, "scale": {"type": "band", "domain": ["Type"], "range": [0, 214.5], "paddingInner": 0, "paddingOuter": 0}}, "y": {"field": "row", "type": "nominal", "axis": null, "scale": {"type": "band", "domain": ["Target Asset Allocation", "NAÏVE REBALANCING", "Monthly", "Quarterly", "3% Range", "5% Range", "Volatility Based Range", "Drift", "Naïve TDF", "INTELLIGENT REBALANCING", "Intelligent", "Risk-based Intelligent"], "paddingInner": 0, "paddingOuter": 0}}, "text": {"field": "value"}}}
      ]
    }
  ]
}
